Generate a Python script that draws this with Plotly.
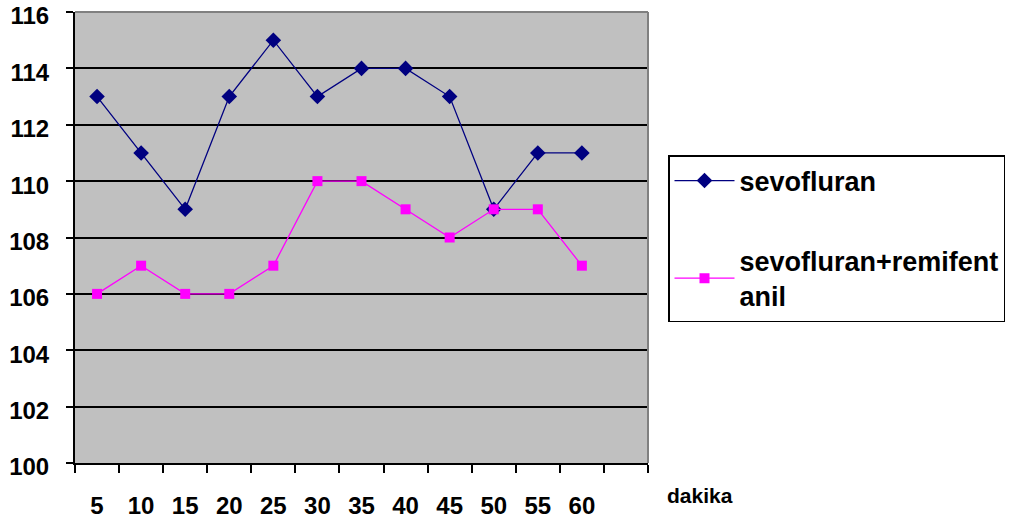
import plotly.graph_objects as go

# Time points (minutes) and the two group series
minutes = ["5", "10", "15", "20", "25", "30", "35", "40", "45", "50", "55", "60"]
sevo = [113, 111, 109, 113, 115, 113, 114, 114, 113, 109, 111, 111]
sevo_remi = [106, 107, 106, 106, 107, 110, 110, 109, 108, 109, 109, 107]
y_ticks = [100, 102, 104, 106, 108, 110, 112, 114, 116]

FONT = "Arial, Liberation Sans, sans-serif"
xpos = list(range(len(minutes)))

fig = go.Figure()
fig.add_trace(go.Scatter(
    x=xpos, y=sevo, mode="lines+markers", name="sevofluran",
    line=dict(color="#000080", width=1.3),
    marker=dict(symbol="diamond", size=12, color="#000080"),
    legendgroup="a",
))
fig.add_trace(go.Scatter(
    x=xpos, y=sevo_remi, mode="lines+markers", name="sevofluran+remifent<br>anil",
    line=dict(color="#FF00FF", width=1.3),
    marker=dict(symbol="square", size=10, color="#FF00FF"),
    legendgroup="b",
))

n_slots = len(minutes) + 1
fig.update_layout(
    width=1013, height=527,
    margin=dict(l=75, r=365, t=12, b=64, autoexpand=False),
    paper_bgcolor="white",
    plot_bgcolor="#C0C0C0",
    font=dict(family=FONT, color="black"),
    xaxis=dict(
        range=[-0.5, n_slots - 0.5],
        tickvals=xpos, ticktext=minutes,
        ticks="", showgrid=False, zeroline=False,
        showline=True, linecolor="black", linewidth=2,
        tickfont=dict(size=24, family=FONT, weight="bold"),
        ticklabelstandoff=20,
        automargin=False,
        minor=dict(tickvals=[i - 0.5 for i in range(n_slots + 1)],
                   ticks="outside", ticklen=8, tickwidth=2, tickcolor="black",
                   showgrid=False),
    ),
    yaxis=dict(
        range=[100, 116], tickvals=y_ticks,
        ticks="outside", ticklen=7, tickwidth=2, tickcolor="black",
        showgrid=True, gridcolor="black", gridwidth=1.5,
        zeroline=False, showline=True, linecolor="black", linewidth=2,
        tickfont=dict(size=24, family=FONT, weight="bold"),
        ticklabelstandoff=12,
        ticklabelshift=4,
        ticklabeloverflow="allow",
        automargin=False,
    ),
    legend=dict(
        x=668 / 1013, xanchor="left",
        y=1 - 155 / 527, yanchor="top",
        xref="container", yref="container",
        bgcolor="white", bordercolor="black", borderwidth=1.5,
        font=dict(size=27, family=FONT, weight="bold"),
        tracegroupgap=42,
        itemwidth=60,
        traceorder="grouped",
    ),
    showlegend=True,
)

# Gray frame on top and right of the plot area
fig.add_shape(type="line", xref="paper", yref="paper", x0=0, x1=1, y0=1, y1=1,
              line=dict(color="#808080", width=2), layer="above")
fig.add_shape(type="line", xref="paper", yref="paper", x0=1, x1=1, y0=0, y1=1,
              line=dict(color="#808080", width=2), layer="above")

fig.add_annotation(
    text="dakika", xref="paper", yref="paper",
    x=(700 - 75) / (1013 - 75 - 365), y=-(495 - 463) / (527 - 12 - 64),
    xanchor="center", yanchor="middle", showarrow=False,
    font=dict(size=21, family=FONT, weight="bold"),
)

fig.write_html("out.html")
